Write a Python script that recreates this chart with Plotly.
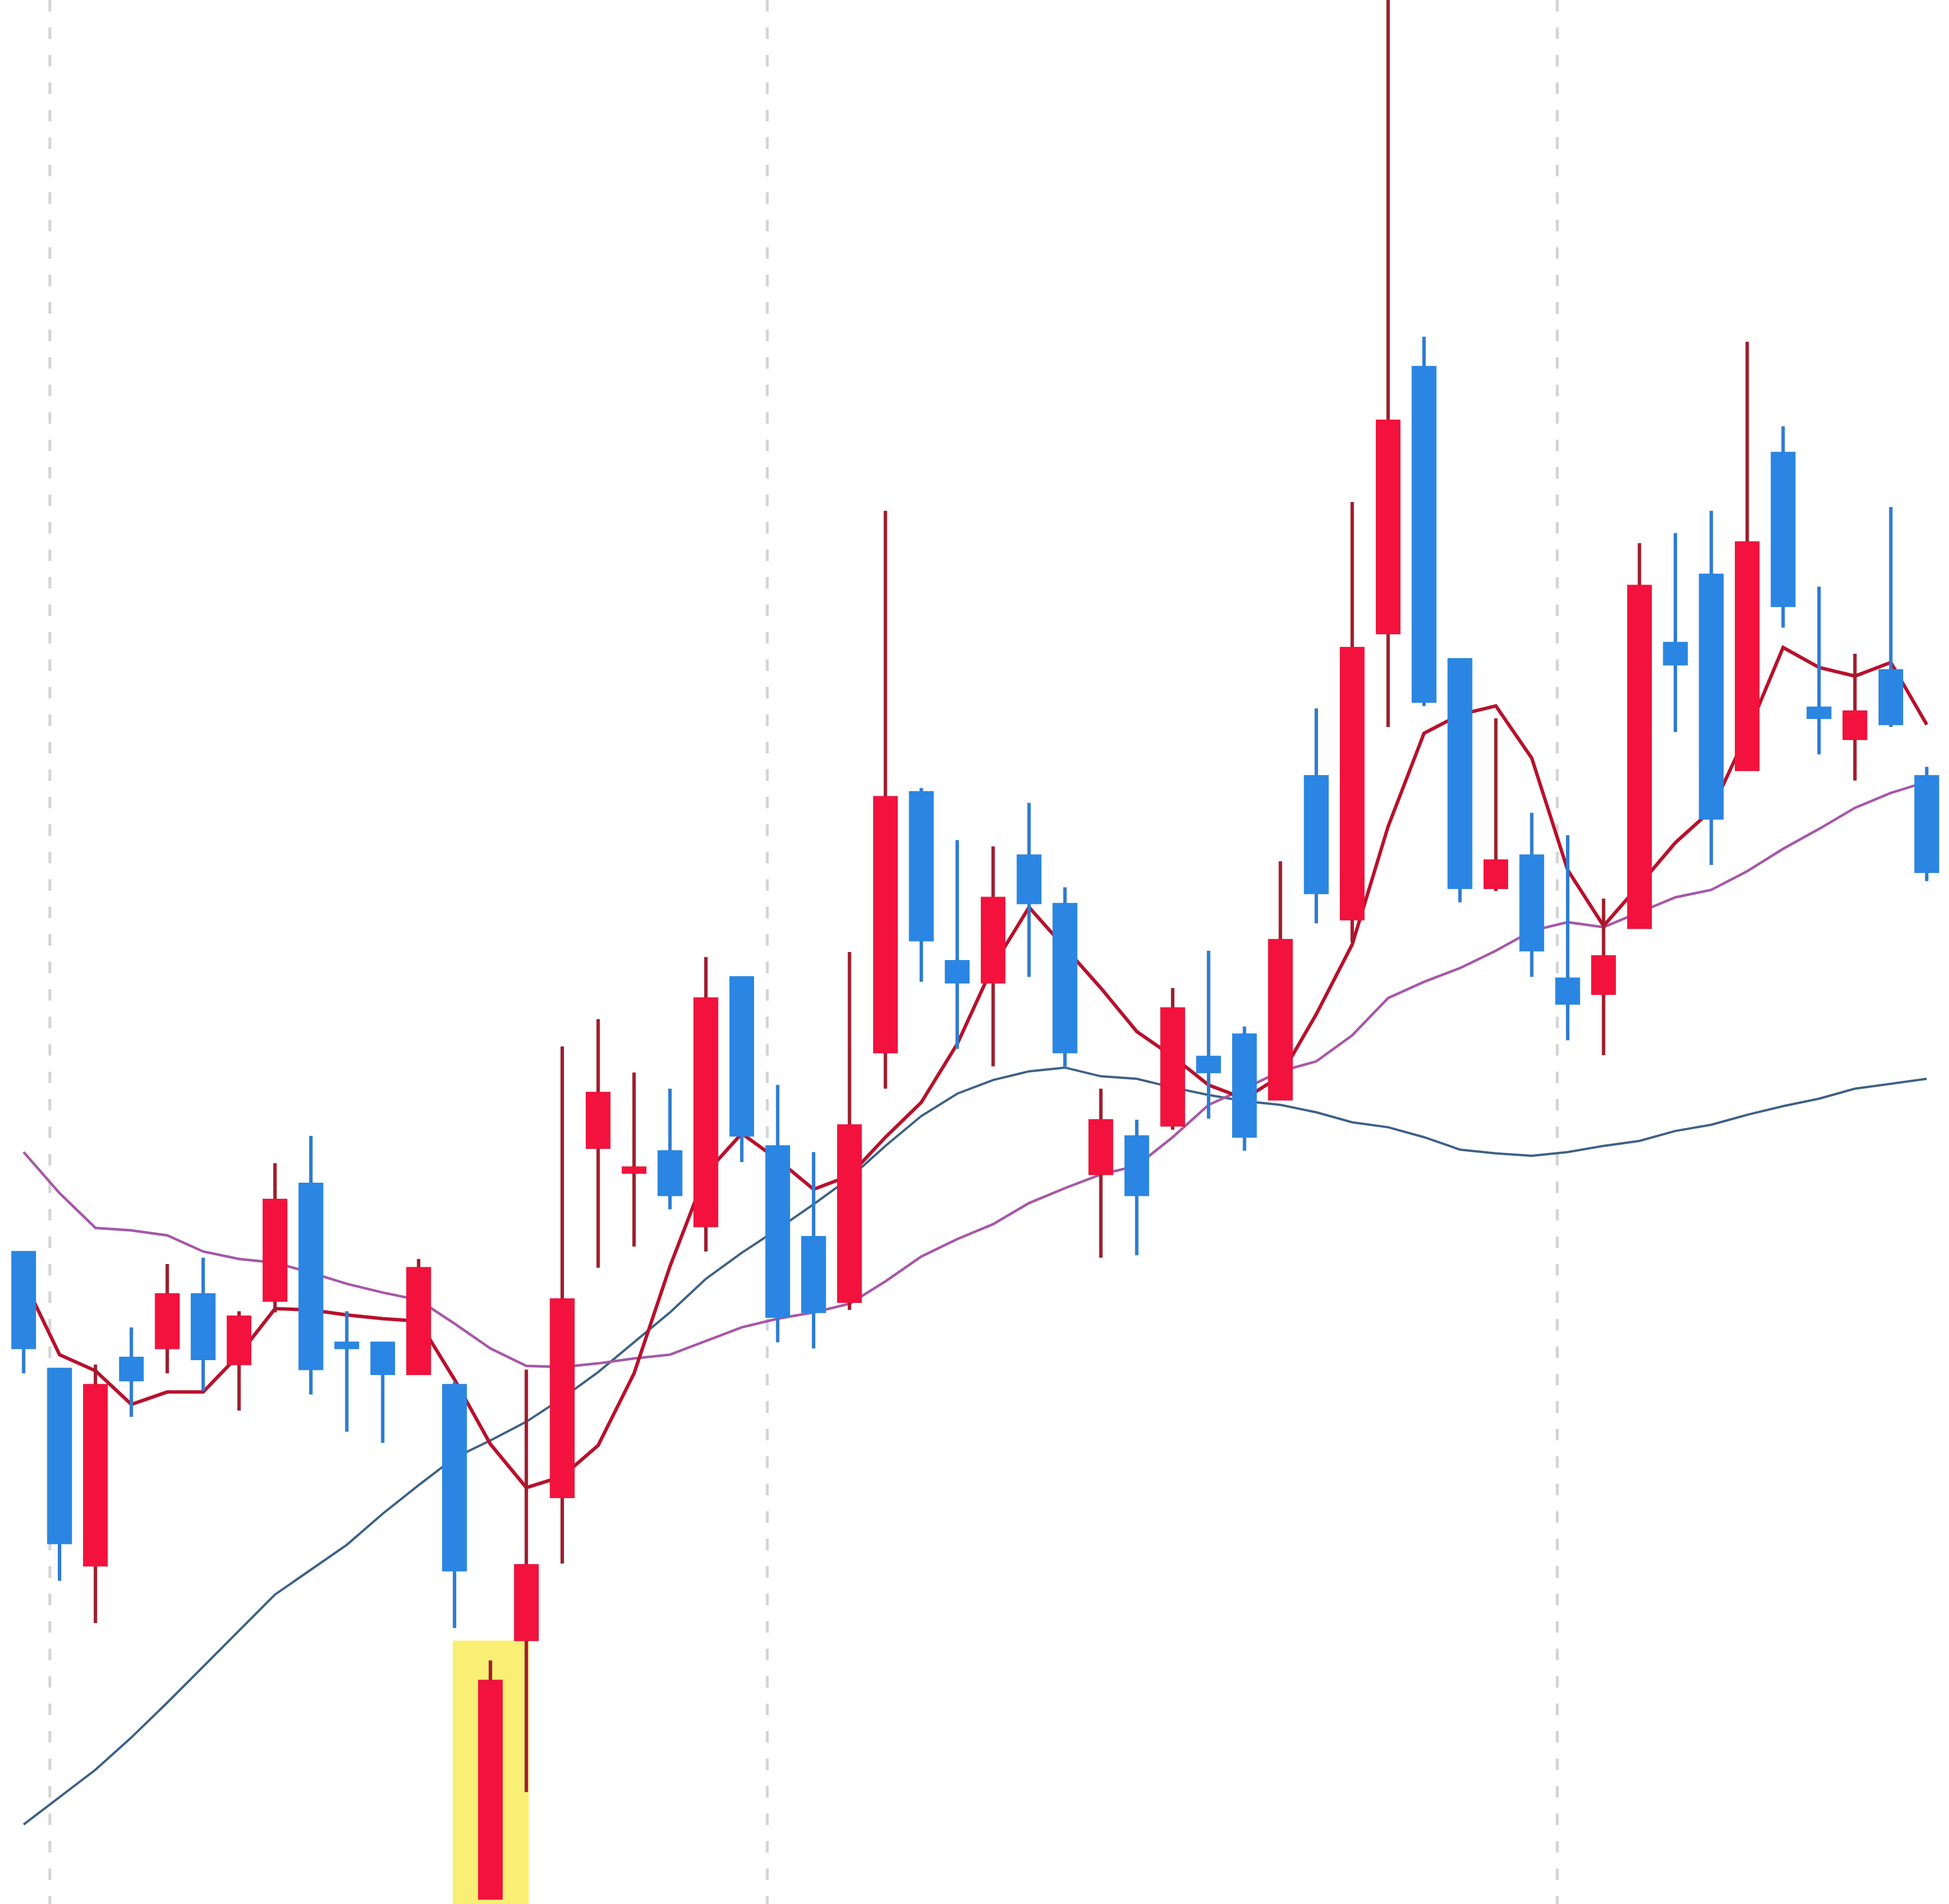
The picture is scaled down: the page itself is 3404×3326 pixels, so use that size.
import plotly.graph_objects as go

# ---- data (price units) ----
days = list(range(54))
open_ = [4048, 3860, 3546, 3878, 3896, 3980, 3870, 3972, 4158, 3902,
         3902, 3854, 3834, 3010, 3426, 3656, 4218, 4178, 4210, 4092,
         4490, 4218, 4072, 3970, 4372, 4788, 4516, 4484, 4686, 4608,
         4176, 4234, 4254, 4362, 4398, 4296, 4814, 4586, 5046, 5472,
         5002, 4636, 4686, 4488, 4466, 4572, 5028, 5138, 4826, 5334,
         4924, 4876, 4984, 4814]
high = [4048, 3860, 3868, 3928, 4030, 4040, 3954, 4192, 4236, 3954,
        3902, 4038, 3840, 3392, 3860, 4380, 4424, 4338, 4312, 4524,
        4490, 4318, 4210, 4532, 5242, 4796, 4712, 4702, 4772, 4636,
        4312, 4262, 4474, 4534, 4412, 4678, 4924, 5256, 6144, 5522,
        5002, 4908, 4756, 4720, 4618, 5190, 5206, 5242, 5514, 5378,
        5120, 5012, 5248, 4830]
low = [3854, 3520, 3452, 3784, 3854, 3826, 3794, 3952, 3820, 3760,
       3742, 3854, 3444, 3010, 3180, 3548, 4024, 4058, 4118, 4050,
       4194, 3904, 3894, 3956, 4312, 4484, 4376, 4348, 4492, 4346,
       4040, 4044, 4246, 4264, 4212, 4296, 4578, 4548, 4894, 4928,
       4612, 4630, 4492, 4390, 4366, 4572, 4886, 4672, 4826, 5054,
       4850, 4808, 4894, 4646]
close = [3896, 3582, 3834, 3844, 3980, 3878, 3944, 4132, 3862, 3896,
         3854, 4022, 3538, 3358, 3544, 3972, 4304, 4184, 4142, 4456,
         4238, 3946, 3954, 4252, 4780, 4552, 4484, 4618, 4612, 4372,
         4260, 4142, 4440, 4340, 4236, 4550, 4628, 5020, 5386, 4936,
         4636, 4678, 4536, 4450, 4524, 5120, 4996, 4748, 5190, 5090,
         4910, 4918, 4900, 4662]

ma_short = [4004, 3884, 3858, 3804, 3824, 3824, 3884, 3958, 3956, 3948,
            3942, 3938, 3844, 3740, 3670, 3688, 3738, 3854, 4026, 4176,
            4240, 4198, 4150, 4172, 4234, 4290, 4384, 4510, 4604, 4540,
            4474, 4404, 4364, 4318, 4296, 4332, 4432, 4544, 4734, 4884,
            4914, 4928, 4844, 4664, 4574, 4640, 4708, 4760, 4884, 5022,
            4990, 4976, 4998, 4898]
ma_mid = [4210, 4144, 4088, 4084, 4076, 4050, 4038, 4032, 4016, 3998,
          3984, 3972, 3934, 3894, 3866, 3864, 3870, 3878, 3884, 3906,
          3928, 3942, 3952, 3966, 4002, 4042, 4070, 4094, 4128, 4152,
          4174, 4188, 4234, 4286, 4312, 4340, 4356, 4398, 4458, 4484,
          4506, 4534, 4566, 4580, 4572, 4596, 4620, 4632, 4662, 4698,
          4730, 4764, 4788, 4806]
ma_long = [3128, 3172, 3216, 3268, 3324, 3382, 3440, 3498, 3538, 3578,
           3628, 3674, 3718, 3746, 3776, 3814, 3856, 3904, 3952, 4006,
           4048, 4086, 4126, 4168, 4220, 4268, 4304, 4326, 4340, 4346,
           4332, 4328, 4314, 4302, 4292, 4286, 4274, 4258, 4250, 4234,
           4214, 4208, 4204, 4210, 4220, 4228, 4244, 4254, 4270, 4284,
           4296, 4312, 4320, 4328]

month_breaks = [0.73, 20.71, 42.71]
highlight_day = 13
highlight_top = 3424

X_RANGE = [-0.658, 53.62]
Y_RANGE = [3000, 6064]

RED = "#f2123d"
RED_WICK = "#9e1e2e"
BLUE = "#2a86e2"
BLUE_WICK = "#2f7cd0"

body_high = [max(o, c) for o, c in zip(open_, close)]
body_low = [min(o, c) for o, c in zip(open_, close)]

fig = go.Figure()

for vals, color, w in [(ma_long, "#3d6186", 4), (ma_mid, "#a657a8", 4.5), (ma_short, "#b8112c", 6)]:
    fig.add_trace(go.Scatter(x=days, y=vals, mode="lines",
                             line=dict(color=color, width=w),
                             xaxis="x", yaxis="y", hoverinfo="skip", showlegend=False))

fig.add_trace(go.Candlestick(
    x=days, open=open_, high=high, low=low, close=close,
    xaxis="x2", yaxis="y2", whiskerwidth=0, showlegend=False,
    increasing=dict(line=dict(color=RED_WICK, width=6), fillcolor=RED),
    decreasing=dict(line=dict(color=BLUE_WICK, width=6), fillcolor=BLUE)))
fig.add_trace(go.Candlestick(
    x=days, open=open_, high=body_high, low=body_low, close=close,
    xaxis="x2", yaxis="y2", whiskerwidth=0, showlegend=False,
    increasing=dict(line=dict(color=RED, width=6), fillcolor=RED),
    decreasing=dict(line=dict(color=BLUE, width=6), fillcolor=BLUE)))

shapes = [dict(type="rect", xref="x", yref="y",
               x0=highlight_day - 1.05, x1=highlight_day + 1.07,
               y0=Y_RANGE[0], y1=highlight_top,
               fillcolor="#f8ef74", line=dict(width=0), layer="below")]
for b in month_breaks:
    shapes.append(dict(type="line", xref="x", yref="y", x0=b, x1=b,
                       y0=Y_RANGE[1], y1=Y_RANGE[0],
                       line=dict(color="#d3d3d3", width=5, dash="20px,28px"),
                       layer="below"))

ax = dict(visible=False, showgrid=False, zeroline=False, fixedrange=True)
fig.update_layout(
    width=3404, height=3326, autosize=False,
    margin=dict(l=0, r=0, t=0, b=0, pad=0),
    paper_bgcolor="white", plot_bgcolor="white",
    boxgap=0.16, boxmode="overlay",
    showlegend=False,
    xaxis=dict(range=X_RANGE, rangeslider=dict(visible=False), **ax),
    yaxis=dict(range=Y_RANGE, **ax),
    xaxis2=dict(range=X_RANGE, overlaying="x", anchor="y2", rangeslider=dict(visible=False), **ax),
    yaxis2=dict(range=Y_RANGE, overlaying="y", anchor="x2", **ax),
    shapes=shapes,
)

fig.write_html("out.html", config={"displayModeBar": False},
               post_script="document.body.style.margin='0';")
